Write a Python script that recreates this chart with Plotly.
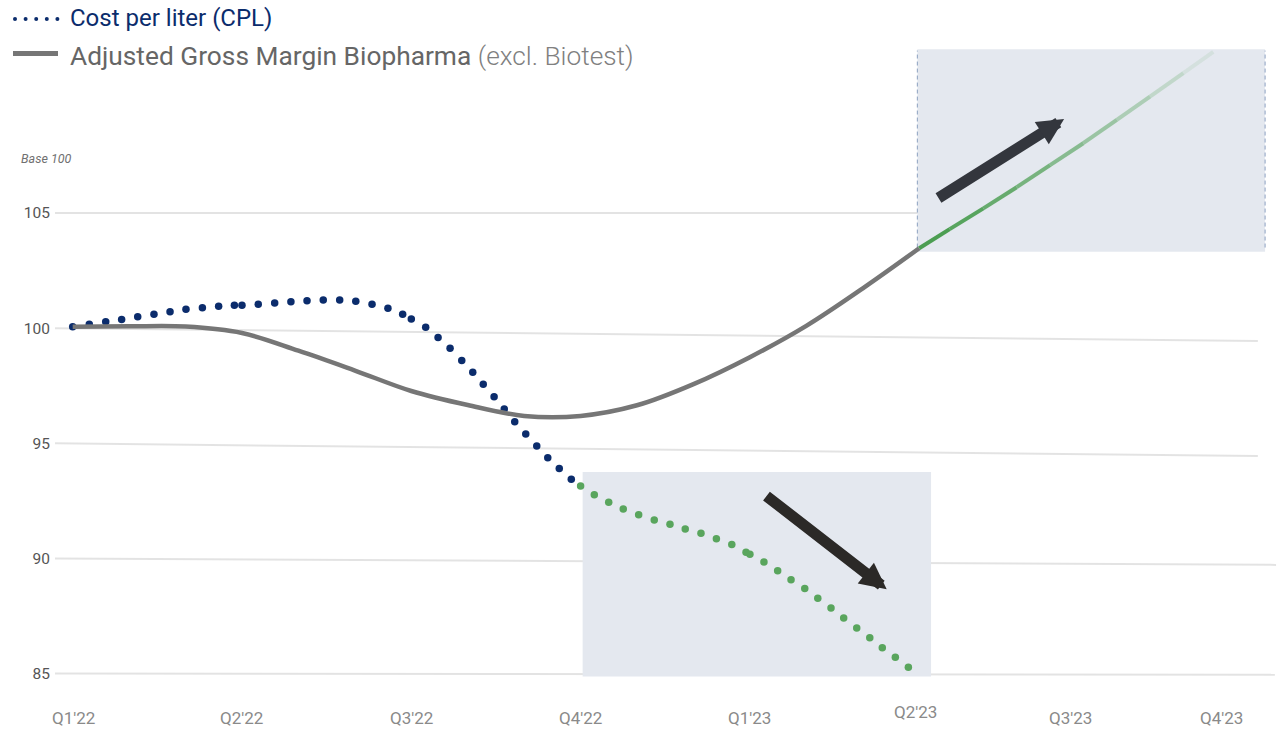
import plotly.graph_objects as go

# ---------------- data ----------------
quarters = ["Q1'22", "Q2'22", "Q3'22", "Q4'22", "Q1'23", "Q2'23", "Q3'23", "Q4'23"]
quarter_label_pos = [0.005, 1.0, 2.0, 3.0, 4.0, 4.976, 5.891, 6.783]

y_ticks = [85, 90, 95, 100, 105]

# Cost per liter (CPL) - actual (blue dots)
cpl_actual_x = [0, 0.098, 0.195, 0.289, 0.384, 0.480, 0.575, 0.669, 0.766, 0.862, 0.955,
                1.0, 1.096, 1.193, 1.289, 1.384, 1.480, 1.577, 1.672, 1.768, 1.862, 1.949,
                2.0, 2.085, 2.158, 2.229, 2.298, 2.363, 2.425, 2.489, 2.549, 2.611, 2.676,
                2.741, 2.806, 2.874, 2.945]
cpl_actual_v = [100.06, 100.17, 100.28, 100.38, 100.50, 100.60, 100.71, 100.82, 100.89, 100.95, 100.99,
                100.99, 101.04, 101.09, 101.15, 101.19, 101.22, 101.22, 101.17, 101.04, 100.86, 100.60,
                100.40, 100.04, 99.59, 99.13, 98.60, 98.08, 97.56, 97.02, 96.49, 95.94, 95.40,
                94.88, 94.37, 93.90, 93.44]

# Cost per liter (CPL) - outlook (green dots)
cpl_outlook_x = [3.0, 3.081, 3.166, 3.252, 3.343, 3.435, 3.528, 3.618, 3.711, 3.802, 3.893, 3.977,
                 4.0, 4.083, 4.164, 4.243, 4.324, 4.401, 4.479, 4.554, 4.631, 4.708, 4.782, 4.859, 4.936]
cpl_outlook_v = [93.15, 92.77, 92.44, 92.15, 91.90, 91.67, 91.48, 91.28, 91.09, 90.86, 90.60, 90.27,
                 90.18, 89.85, 89.47, 89.08, 88.69, 88.27, 87.85, 87.41, 86.98, 86.56, 86.12, 85.71, 85.27]

# Adjusted Gross Margin Biopharma - actual (grey line)
margin_actual_x = [0, 0.333, 0.667, 1.0, 1.333, 1.667, 2.0, 2.333, 2.667, 3.0, 3.333, 3.667,
                   4.0, 4.333, 4.667, 5.0]
margin_actual_v = [100.06, 100.08, 100.07, 99.79, 99.02, 98.16, 97.27, 96.66, 96.19, 96.19, 96.65, 97.57,
                   98.74, 100.10, 101.73, 103.47]

# Adjusted Gross Margin Biopharma - outlook (green fading line)
margin_outlook_x = [5.0, 5.180, 5.379, 5.576, 5.773, 5.969, 6.167, 6.363, 6.560, 6.737]
margin_outlook_v = [103.47, 104.30, 105.20, 106.12, 107.08, 108.03, 109.04, 110.05, 111.07, 112.00]

# ---------------- styling ----------------
NAVY = "#0b2c6c"
GREEN_DOT = "#59a55d"
GREY = "#767676"
BOX = "#e4e8ef"
FONT = "Roboto"

W, H = 1278, 730
ML, MR, MT, MB = 55, 8, 40, 30
X_RANGE = [-0.1045, 7.072]
Y_RANGE = [83.853, 112.512]


def px_x(px):
    return (px - ML) / (W - ML - MR)


def px_y(py):
    return (H - MB - py) / (H - MT - MB)


fig = go.Figure()

# CPL dots
fig.add_trace(go.Scatter(x=cpl_actual_x, y=cpl_actual_v, mode="markers",
                         marker=dict(size=7.5, color=NAVY), hoverinfo="skip", showlegend=False))
fig.add_trace(go.Scatter(x=cpl_outlook_x, y=cpl_outlook_v, mode="markers",
                         marker=dict(size=7.5, color=GREEN_DOT), hoverinfo="skip", showlegend=False))

# Margin grey line
fig.add_trace(go.Scatter(x=margin_actual_x, y=margin_actual_v, mode="lines",
                         line=dict(color=GREY, width=4.5, shape="spline", smoothing=1.0),
                         hoverinfo="skip", showlegend=False))

# Margin outlook: fading green segments
n_seg = len(margin_outlook_x) - 1
for i in range(n_seg):
    frac = i / (n_seg - 1)
    alpha = 1.0 - 0.9 * frac ** 1.2
    fig.add_trace(go.Scatter(x=margin_outlook_x[i:i + 2], y=margin_outlook_v[i:i + 2], mode="lines",
                             line=dict(color=f"rgba(76,158,82,{alpha:.3f})", width=4),
                             hoverinfo="skip", showlegend=False))

shapes = []
# shaded boxes
shapes.append(dict(type="rect", xref="x", yref="y", x0=4.989, x1=7.043, y0=103.32, y1=112.11,
                   fillcolor=BOX, line=dict(width=0), layer="below"))
shapes.append(dict(type="rect", xref="x", yref="y", x0=3.012, x1=5.070, y0=84.87, y1=93.75,
                   fillcolor=BOX, line=dict(width=0), layer="below"))
for xv in (4.989, 7.043):
    shapes.append(dict(type="line", xref="x", yref="y", x0=xv, x1=xv, y0=103.5, y1=112.05,
                       line=dict(color="rgb(140,160,192)", width=1, dash="4px,3px"), layer="below"))

# slightly tilted grid lines (as in the reference)
grid = [(105, 105.0, 0.990), (100, 99.44, 0.990), (95, 94.45, 0.990), (90, 89.72, 1.005), (85, 84.95, 1.004)]
for v0, v1, xr in grid:
    shapes.append(dict(type="line", xref="paper", yref="y", x0=0, x1=xr, y0=v0, y1=v1,
                       line=dict(color="rgba(0,0,0,0.11)", width=2), layer="below"))

# legend symbols
for k in range(5):
    cx = 15 + k * 10.6
    shapes.append(dict(type="circle", xref="paper", yref="paper",
                       x0=px_x(cx - 2.0), x1=px_x(cx + 2.0), y0=px_y(19 + 2.0), y1=px_y(19 - 2.0),
                       fillcolor=NAVY, line=dict(width=0)))
shapes.append(dict(type="line", xref="paper", yref="paper", x0=px_x(13), x1=px_x(58),
                   y0=px_y(53.5), y1=px_y(53.5), line=dict(color=GREY, width=5)))

annotations = []
# legend texts
annotations.append(dict(xref="paper", yref="paper", x=px_x(68), y=px_y(18), xanchor="left", yanchor="middle",
                        text="Cost per liter (CPL)", showarrow=False,
                        font=dict(family=FONT, size=24, color=NAVY)))
annotations.append(dict(xref="paper", yref="paper", x=px_x(68), y=px_y(56), xanchor="left", yanchor="middle",
                        text="Adjusted Gross Margin Biopharma "
                             "<span style='color:#808080;font-size:26.3px;font-weight:300'>(excl. Biotest)</span>",
                        showarrow=False, font=dict(family=FONT, size=26.3, color="#666666")))
# Base 100
annotations.append(dict(xref="paper", yref="paper", x=px_x(19), y=px_y(158), xanchor="left", yanchor="middle",
                        text="<i>Base 100</i>", showarrow=False,
                        font=dict(family=FONT, size=12.5, color="#707070")))
# x labels
for lab, pos in zip(quarters, quarter_label_pos):
    yy = 712 if lab == "Q2'23" else 718
    annotations.append(dict(xref="x", yref="paper", x=pos, y=px_y(yy), xanchor="center", yanchor="middle",
                            text=lab, showarrow=False,
                            font=dict(family=FONT, size=17, color="#8a8a8a")))
# arrows
annotations.append(dict(xref="x", yref="y", axref="x", ayref="y", x=5.856, y=109.08, ax=5.105, ay=105.61,
                        text="", showarrow=True, arrowhead=2, arrowsize=0.48, arrowwidth=11,
                        arrowcolor="#33363d", standoff=0, startstandoff=0))
annotations.append(dict(xref="x", yref="y", axref="x", ayref="y", x=4.808, y=88.66, ax=4.089, ay=92.76,
                        text="", showarrow=True, arrowhead=2, arrowsize=0.48, arrowwidth=11,
                        arrowcolor="#2b2927", standoff=0, startstandoff=0))

fig.update_layout(
    width=W, height=H,
    margin=dict(l=ML, r=MR, t=MT, b=MB),
    paper_bgcolor="white", plot_bgcolor="white",
    showlegend=False,
    shapes=shapes, annotations=annotations,
    xaxis=dict(range=X_RANGE, showgrid=False, zeroline=False, showline=False,
               showticklabels=False, ticks="", fixedrange=True),
    yaxis=dict(range=Y_RANGE, showgrid=False, zeroline=False, showline=False,
               tickmode="array", tickvals=y_ticks, ticktext=[str(t) for t in y_ticks],
               tickfont=dict(family=FONT, size=15.5, color="#555555"), ticks="", ticklabelstandoff=4,
               fixedrange=True),
)

fig.write_html("out.html", config={"displayModeBar": False},
               post_script="document.body.style.margin='0';")
